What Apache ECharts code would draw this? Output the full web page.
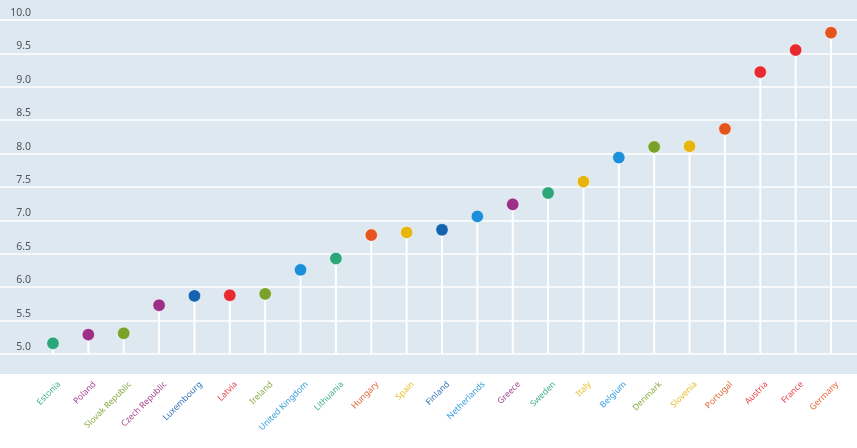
<!DOCTYPE html>
<html>
<head>
<meta charset="utf-8">
<script src="https://cdn.jsdelivr.net/npm/echarts@6/dist/echarts.min.js"></script>
<style>html,body{margin:0;padding:0;background:#fff;}#c{width:857px;height:448px;}</style>
</head>
<body>
<div id="c"></div>
<script>
const categories = ["Estonia","Poland","Slovak Republic","Czech Republic","Luxembourg","Latvia","Ireland","United Kingdom","Lithuania","Hungary","Spain","Finland","Netherlands","Greece","Sweden","Italy","Belgium","Denmark","Slovenia","Portugal","Austria","France","Germany"];
const values = [5.16,5.29,5.31,5.73,5.87,5.88,5.90,6.26,6.43,6.78,6.82,6.86,7.06,7.24,7.41,7.58,7.94,8.10,8.11,8.37,9.22,9.55,9.81];
const colorKeys = ["green","purple","olive","purple","navy","red","olive","blue","green","orange","yellow","navy","blue","purple","green","yellow","blue","olive","yellow","orange","red","red","orange"];
const yTicks = {min: 5, max: 10, interval: 0.5};

const palette = {green:"#2ba57a", purple:"#9c2f87", olive:"#7aa22b", navy:"#1563ae", red:"#e62a30", blue:"#1b90d9", orange:"#e4541f", yellow:"#e6b50e"};
const colors = colorKeys.map(k => palette[k]);

const chart = echarts.init(document.getElementById('c'));
const FONT = "Noto Sans";
chart.setOption({
  animation: false,
  graphic: [{type:'rect', z:-10, shape:{x:0,y:0,width:857,height:374}, style:{fill:'#dde8f0'}, silent:true}],
  grid: [
    {left:0, right:0, top:20, bottom:94},
    {left:35.3, right:8.3, top:20, bottom:94},
    {left:41.5, right:2.1, top:20, bottom:94}
  ],
  xAxis: [
    {gridIndex:0, type:'value', show:false, min:0, max:1},
    {gridIndex:1, type:'category', data:categories, boundaryGap:true,
     axisLine:{show:false}, axisTick:{show:false}, splitLine:{show:false}, axisLabel:{show:false}},
    {gridIndex:2, type:'category', data:categories, boundaryGap:true,
     axisLine:{show:false}, axisTick:{show:false}, splitLine:{show:false},
     axisLabel:{rotate:45, margin:29, fontSize:8.5, fontFamily:FONT, interval:0,
       color:(v, i) => colors[categories.indexOf(v)], opacity:0.9}}
  ],
  yAxis: [
    {gridIndex:0, type:'value', min:yTicks.min, max:yTicks.max, interval:yTicks.interval,
     axisLine:{show:false}, axisTick:{show:false},
     splitLine:{show:true, lineStyle:{color:'#ffffff', width:1.5}},
     axisLabel:{inside:true, align:'right', margin:31, verticalAlign:'bottom', lineHeight:14,
       fontSize:10.5, fontFamily:FONT, color:'#50555c', formatter:v => v.toFixed(1)}},
    {gridIndex:1, type:'value', min:yTicks.min, max:yTicks.max, interval:yTicks.interval, show:false, splitLine:{show:false}},
    {gridIndex:2, type:'value', min:yTicks.min, max:yTicks.max, interval:yTicks.interval, show:false, splitLine:{show:false}}
  ],
  series: [
    {type:'bar', xAxisIndex:1, yAxisIndex:1, data:values, barWidth:2,
     itemStyle:{color:'#ffffff'}, z:2, silent:true},
    {type:'scatter', xAxisIndex:1, yAxisIndex:1, symbol:'circle', symbolSize:12.5, z:3,
     data: values.map((v,i) => ({value:v, itemStyle:{color:colors[i]}})),
     itemStyle:{opacity:1, borderColor:'rgba(255,255,255,0.6)', borderWidth:1}}
  ]
});
</script>
</body>
</html>
